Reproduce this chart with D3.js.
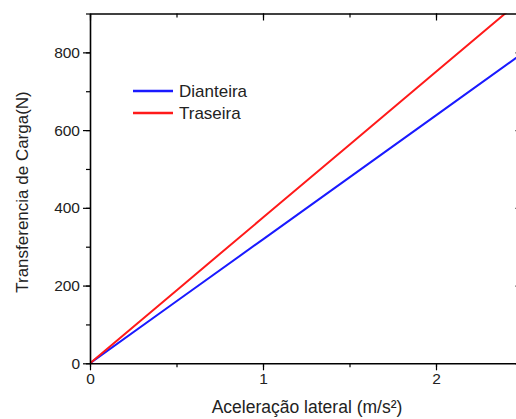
<!DOCTYPE html>
<html>
<head>
<meta charset="utf-8">
<script src="https://cdn.jsdelivr.net/npm/d3@7"></script>
<style>
  body { margin: 0; background: #fff; }
  svg { display: block; font-family: "Liberation Sans", Arial, sans-serif; }
</style>
</head>
<body>
<svg id="chart" width="516" height="419"></svg>
<script>
// values
var accel = [0, 0.5, 1, 1.5, 2, 2.5];
var dianteira = [0, 159.5, 319, 478.5, 638, 797.5];
var traseira = [0, 187.5, 375, 562.5, 750, 937.5];
var xTicks = [0, 1, 2];
var yTicks = [0, 200, 400, 600, 800];
var seriesNames = ["Dianteira", "Traseira"];
var seriesColors = ["#1a1aff", "#ff1a1a"];

var svg = d3.select("#chart");
var margin = {left: 90, top: 13.5, right: 522.5, bottom: 363.3};

var x = d3.scaleLinear().domain([0, 2.5]).range([margin.left, margin.right]);
var y = d3.scaleLinear().domain([0, 900]).range([margin.bottom, margin.top]);

svg.append("defs").append("clipPath").attr("id", "plot")
  .append("rect")
    .attr("x", margin.left).attr("y", margin.top)
    .attr("width", margin.right - margin.left)
    .attr("height", margin.bottom - margin.top);

// lines
var series = [dianteira, traseira];
var line = d3.line()
    .x(function(d, i) { return x(accel[i]); })
    .y(function(d) { return y(d); });

svg.append("g").attr("clip-path", "url(#plot)")
  .selectAll("path")
  .data(series)
  .enter().append("path")
    .attr("d", line)
    .attr("fill", "none")
    .attr("stroke", function(d, i) { return seriesColors[i]; })
    .attr("stroke-width", 2);

// axes
var xMinor = d3.range(0, 2.51, 0.5);
var yMinor = d3.range(0, 901, 100);

function styleAxis(g) {
  g.select(".domain").attr("stroke", "#000").attr("stroke-width", 1.6);
  g.selectAll(".tick line").attr("stroke", "#000").attr("stroke-width", 1.2);
  g.selectAll(".tick text").attr("fill", "#222").style("font-size", "15.5px");
}

// minor ticks first
svg.append("g").attr("transform", "translate(0," + margin.bottom + ")")
  .call(d3.axisBottom(x).tickValues(xMinor).tickSize(4).tickFormat(""))
  .call(styleAxis).select(".domain").remove();
svg.append("g").attr("transform", "translate(" + margin.left + ",0)")
  .call(d3.axisLeft(y).tickValues(yMinor).tickSize(4).tickFormat(""))
  .call(styleAxis).select(".domain").remove();
svg.append("g").attr("transform", "translate(0," + margin.top + ")")
  .call(d3.axisBottom(x).tickValues(xMinor).tickSize(4).tickFormat(""))
  .call(styleAxis).select(".domain").remove();
svg.append("g").attr("transform", "translate(" + margin.right + ",0)")
  .call(d3.axisLeft(y).tickValues(yMinor).tickSize(4).tickFormat(""))
  .call(styleAxis).select(".domain").remove();

svg.append("g").attr("transform", "translate(0," + margin.bottom + ")")
  .call(d3.axisBottom(x).tickValues(xTicks).tickSize(7).tickSizeOuter(0).tickPadding(3).tickFormat(d3.format("d")))
  .call(styleAxis);
svg.append("g").attr("transform", "translate(" + margin.left + ",0)")
  .call(d3.axisLeft(y).tickValues(yTicks).tickSize(7).tickSizeOuter(0).tickPadding(3).tickFormat(d3.format("d")))
  .call(styleAxis);
svg.append("g").attr("transform", "translate(0," + margin.top + ")")
  .call(d3.axisBottom(x).tickValues(xTicks).tickSize(7).tickSizeOuter(0).tickFormat(""))
  .call(styleAxis);
svg.append("g").attr("transform", "translate(" + margin.right + ",0)")
  .call(d3.axisLeft(y).tickValues(yTicks).tickSize(7).tickSizeOuter(0).tickFormat(""))
  .call(styleAxis);

// axis titles
svg.append("text")
    .attr("x", 307).attr("y", 413)
    .attr("text-anchor", "middle")
    .attr("fill", "#222")
    .style("font-size", "17.5px")
    .text("Aceleração lateral (m/s²)");

svg.append("text")
    .attr("transform", "translate(28,192) rotate(-90)")
    .attr("text-anchor", "middle")
    .attr("fill", "#222")
    .style("font-size", "17px")
    .text("Transferencia de Carga(N)");

// legend
var legend = svg.append("g").attr("transform", "translate(133,91)");
var item = legend.selectAll("g")
  .data(seriesNames)
  .enter().append("g")
    .attr("transform", function(d, i) { return "translate(0," + (i * 22) + ")"; });
item.append("line")
    .attr("x1", 0).attr("x2", 40)
    .attr("stroke", function(d, i) { return seriesColors[i]; })
    .attr("stroke-width", 2.5);
item.append("text")
    .attr("x", 46).attr("y", 6)
    .attr("fill", "#222")
    .style("font-size", "17px")
    .text(function(d) { return d; });
</script>
</body>
</html>
